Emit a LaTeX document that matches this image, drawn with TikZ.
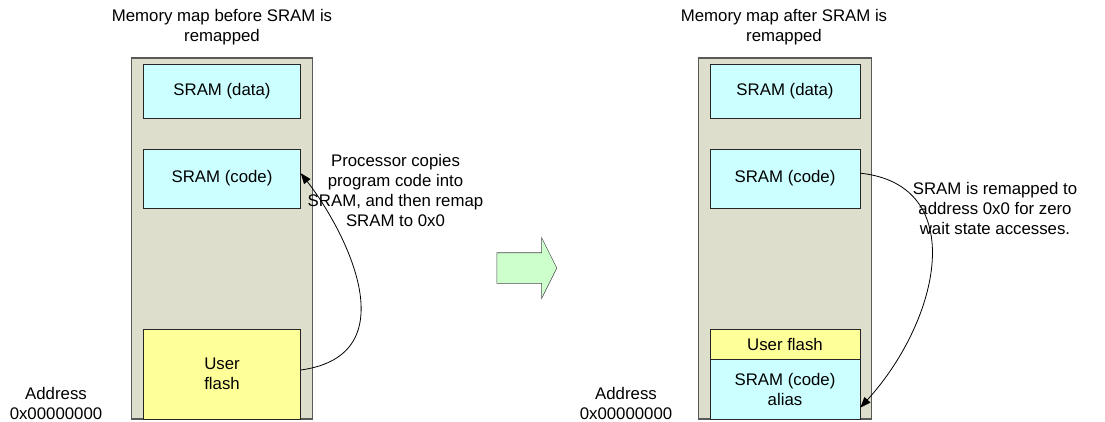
\documentclass[tikz,border=0pt]{standalone}
\usepackage{fontspec}
\setmainfont{Liberation Sans}
\usepackage{tikz}
\usetikzlibrary{shapes.arrows, arrows.meta, positioning, calc}

\definecolor{mapgrey}{RGB}{221,223,204}
\definecolor{sramcyan}{RGB}{204,255,255}
\definecolor{flashyellow}{RGB}{255,255,153}
\definecolor{stepgreen}{RGB}{204,255,204}

\begin{document}
\begin{tikzpicture}[
    x=0.75pt, y=-0.75pt,
    every node/.style={font=\fontsize{12.6}{15}\selectfont},
    map/.style={draw=black!65, fill=mapgrey, line width=0.9pt, inner sep=0pt,
                minimum width=135pt, minimum height=270.75pt},
    sram/.style={draw=black!85, fill=sramcyan, inner sep=0pt, align=center,
                 minimum width=117.75pt, minimum height=44.5pt},
    flash/.style={draw=black!85, fill=flashyellow, inner sep=0pt, align=center,
                  minimum width=117.75pt},
    txt/.style={align=center, inner sep=0pt},
    arr/.style={-{Triangle[length=8pt,width=6pt]}, line width=0.6pt}
]
\useasboundingbox (0,0) rectangle (1105,421);

% before remap
\node[map, minimum width=135.5pt]   (mapA)   at (222, 238.5) {};
\node[sram, minimum height=40.5pt]  (dataA)  at (222, 91.3)  {SRAM (data)};
\node[sram]                          (codeA)  at (222, 178.5) {SRAM (code)};
\node[flash, minimum height=67.5pt] (flashA) at (222, 374)   {User\\flash};
\node[txt] (titleA) at (222, 27)  {Memory map before SRAM is\\remapped};
\node[txt] (addrA)  at (56, 403)  {Address\\0x00000000};
\node[txt] (copyA)  at (395.5, 190.5) {Processor copies\\program code into\\SRAM, and then remap\\SRAM to 0x0};

% remap step
\node[single arrow, draw=black!70, fill=stepgreen, inner xsep=0pt, inner ysep=11.25pt,
      single arrow head extend=11.25pt, single arrow tip angle=126.87,
      minimum height=45pt] (remap) at (523, 268) {};

% after remap
\node[map, minimum width=130pt]     (mapB)    at (785, 238.5) {};
\node[sram, minimum width=112.5pt, minimum height=40.5pt] (dataB) at (785, 91.3) {SRAM (data)};
\node[sram, minimum width=112.5pt]  (codeB)   at (785, 178.5) {SRAM (code)};
\node[flash, minimum width=112.5pt, minimum height=22.5pt] (flashB) at (785, 344) {User flash};
\node[sram, minimum width=112.5pt, minimum height=45pt] (aliasB) at (785, 389) {SRAM (code)\\alias};
\node[txt] (titleB) at (784, 27)  {Memory map after SRAM is\\remapped};
\node[txt] (addrB)  at (626, 403) {Address\\0x00000000};
\node[txt] (remapB) at (995, 208) {SRAM is remapped to\\address 0x0 for zero\\wait state accesses.};

\draw[arr] ([yshift=3pt]flashA.east) .. controls (410,355) and (345,230) .. ([yshift=4pt]codeA.east);
\draw[arr] ([yshift=4pt]codeB.east) .. controls (970,185) and (940,320) .. ([yshift=-14pt]aliasB.east);
\end{tikzpicture}
\end{document}
